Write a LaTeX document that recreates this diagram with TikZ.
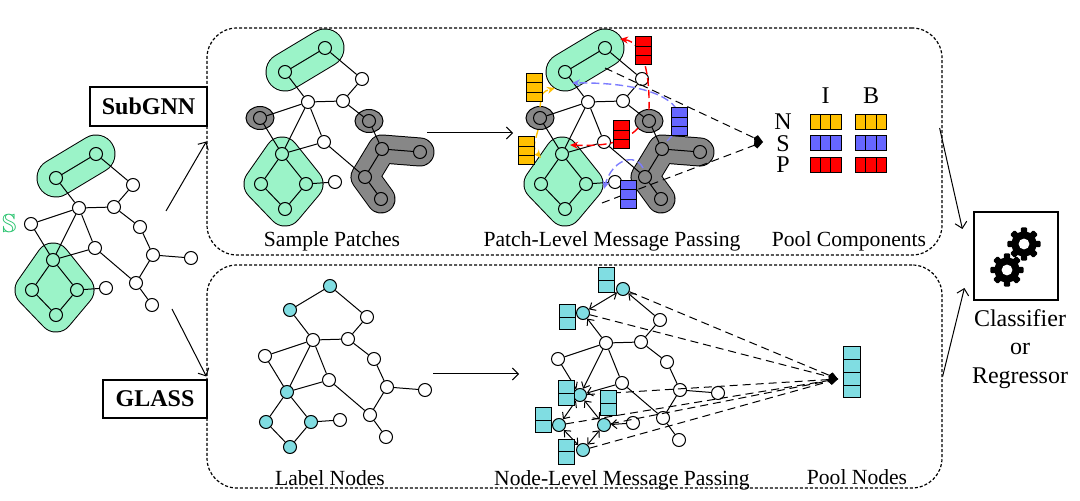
\documentclass[tikz,border=0pt]{standalone}
\usepackage{amssymb}
\usepackage{fontspec}
\setmainfont{Liberation Serif}
\usetikzlibrary{positioning, calc, arrows.meta, backgrounds}

\definecolor{patchgreen}{RGB}{155,243,200}
\definecolor{patchgray}{RGB}{135,135,135}
\definecolor{labelcyan}{RGB}{128,221,226}
\definecolor{msgyellow}{RGB}{255,192,0}
\definecolor{msgblue}{RGB}{102,102,255}
\definecolor{msgred}{RGB}{255,0,0}
\definecolor{setgreen}{RGB}{40,195,110}

\tikzset{
  vert/.style={circle, draw, fill=white, minimum size=6.5pt, inner sep=0pt, line width=0.5pt},
  edge/.style={line width=0.5pt},
  flow/.style={line width=0.5pt, -{Straight Barb[length=3pt, width=6pt]}},
  panel/.style={draw, rounded corners=15pt, dash pattern=on 1.5pt off 1pt, line width=0.6pt},
  method/.style={draw, font=\fontsize{12}{14}\selectfont\bfseries, inner sep=0pt, line width=0.6pt},
  caption/.style={font=\fontsize{10.8}{13}\selectfont, anchor=base, inner sep=0pt},
  bigtext/.style={font=\fontsize{12}{14.25}\selectfont, inner sep=0pt},
  cell/.style={draw, fill=#1, inner sep=0pt, line width=0.5pt},
  vcells/.style={path picture={\foreach \t in {#1}
      \draw[line width=0.5pt] ($(path picture bounding box.north west)!\t!(path picture bounding box.south west)$)
        -- ($(path picture bounding box.north east)!\t!(path picture bounding box.south east)$);}},
  hcells/.style={path picture={\foreach \t in {#1}
      \draw[line width=0.5pt] ($(path picture bounding box.north west)!\t!(path picture bounding box.north east)$)
        -- ($(path picture bounding box.south west)!\t!(path picture bounding box.south east)$);}},
  msgstack/.style={cell=#1, minimum width=8pt, minimum height=14pt, vcells={0.3333,0.6667}},
  poolbar/.style={cell=#1, minimum width=15.5pt, minimum height=7.5pt, hcells={0.3333,0.6667}},
  nodestack/.style={cell=labelcyan, minimum width=8pt, minimum height=12.5pt, vcells={0.5}},
  msg/.style={line width=0.7pt, dash pattern=on 4pt off 2pt, -{Stealth[length=4pt, width=3.5pt]}},
  pooled/.style={line width=0.5pt, dash pattern=on 4pt off 2.5pt, -{Kite[length=5pt, width=4pt]}},
  green nodes/.style={v a1/.style={fill=patchgreen}, v a2/.style={fill=patchgreen},
    v p1/.style={fill=patchgreen}, v p2/.style={fill=patchgreen},
    v p3/.style={fill=patchgreen}, v p4/.style={fill=patchgreen}},
  gray nodes/.style={v s/.style={fill=patchgray}, v e/.style={fill=patchgray},
    v g/.style={fill=patchgray}, v h/.style={fill=patchgray},
    v j/.style={fill=patchgray}, v k/.style={fill=patchgray}},
  cyan nodes/.style={v a1/.style={fill=labelcyan}, v a2/.style={fill=labelcyan},
    v p1/.style={fill=labelcyan}, v p2/.style={fill=labelcyan},
    v p3/.style={fill=labelcyan}, v p4/.style={fill=labelcyan}},
  node messages/.style={>={Straight Barb[length=2.5pt, width=4.5pt]},
    e a1-a2/.style={<->}, e a2-b/.style={<-}, e a1-c/.style={<-},
    e c-p1/.style={->}, e f-p1/.style={->}, e s-p1/.style={->},
    e p1-p2/.style={<->}, e p1-p3/.style={<->}, e p2-p4/.style={<->},
    e p3-p4/.style={<->}, e p3-i/.style={<-}},
}

% the graph, drawn once per panel
\newcommand{\basegraph}{%
  \foreach \n/\x/\y in {a1/56/178, a2/96/154, b/133/185, c/79/208, d/114/207,
      s/31/224, e/140/227, f/95/248, g/153/255, h/191/258, i/106/288,
      j/136/283, k/152/305, p1/53/260, p2/32/290, p3/77/290, p4/56/315}
    \node[vert, v \n/.try] (\n) at (\x,\y) {};
  \foreach \u/\w in {a1/a2, a2/b, a1/c, b/d, c/d, c/s, c/p1, c/f, d/e, e/g,
      g/h, g/j, j/k, f/j, f/p1, s/p1, p1/p2, p1/p3, p2/p4, p3/p4, p3/i}
    \draw[edge, e \u-\w/.try] (\u) -- (\w);
}
% outlined patch: [fill]{colour}{width}{path}
\newcommand{\blob}[4][]{%
  \draw[#1, draw=black, line width=#3+1pt, line join=round, line cap=round] #4;
  \draw[#1, draw=#2, line width=#3, line join=round, line cap=round] #4;}
\newcommand{\greenpatches}{%
  \blob{patchgreen}{18.5pt}{(a1.center) -- (a2.center)}
  \blob[fill=patchgreen]{patchgreen}{16.5pt}{(p1.center) -- (p3.center) -- (p4.center) -- (p2.center) -- cycle}}
\newcommand{\graypatches}{%
  \filldraw[fill=patchgray, line width=0.5pt] (s.center) ellipse (7pt and 5.75pt);
  \filldraw[fill=patchgray, line width=0.5pt] (e.center) ellipse (7pt and 5.75pt);
  \blob{patchgray}{13.5pt}{(h.center) -- (g.center) -- (j.center) -- (k.center)}}

\begin{document}
\begin{tikzpicture}[x=0.5pt, y=-0.5pt]
\useasboundingbox (0,0) rectangle (1080,501);

% input graph
\begin{scope}[name prefix=in-, green nodes]
  \basegraph
  \begin{pgfonlayer}{background}
    \greenpatches
  \end{pgfonlayer}
\end{scope}
\node[left=3.5pt of in-s, inner sep=0pt, text=setgreen, font=\fontsize{13}{15}\selectfont] (setname) {$\mathbb{S}$};

% panels
\node[panel, minimum width=367.5pt, minimum height=113.5pt] (subbox) at (574.5,141.5) {};
\node[panel, minimum width=367.5pt, minimum height=111.5pt] (glassbox) at (574.5,376.5) {};
\node[method, minimum width=58.5pt, minimum height=19.5pt] (subgnn) at (148.5,106.5) {SubGNN};
\node[method, minimum width=52pt, minimum height=19pt] (glass) at (155,399) {GLASS};
\coordinate (toup) at (166,211);
\coordinate (todown) at (172,309);
\draw[flow] (toup) -- (subbox.west);
\draw[flow] (todown) -- (glassbox.west);

% SubGNN: sample patches
\begin{scope}[shift={(229,-106)}, name prefix=sp-, green nodes, gray nodes]
  \basegraph
  \begin{pgfonlayer}{background}
    \greenpatches
    \graypatches
  \end{pgfonlayer}
\end{scope}
\coordinate (spout) at (427,133);
\coordinate (plin) at (513,133);
\draw[flow] (spout) -- (plin);

% SubGNN: patch-level message passing
\begin{scope}[shift={(509,-106)}, name prefix=pl-, green nodes, gray nodes]
  \basegraph
  \begin{pgfonlayer}{background}
    \greenpatches
    \graypatches
  \end{pgfonlayer}
\end{scope}
\coordinate (pctip) at (763,142);
\draw[pooled] ([yshift=-10pt]pl-a2.center) -- (pctip);
\draw[pooled] ([xshift=8pt,yshift=-9.5pt]pl-p3.center) -- (pctip);
\draw[msg, msgred] ([yshift=5.5pt]pl-e.center) .. controls (650,70) and (642,42) .. ([xshift=7.5pt,yshift=4.5pt]pl-a2.center);
\draw[msg, msgred] ([xshift=-5.5pt,yshift=-3.5pt]pl-e.center) .. controls (622,146) and (595,146) .. ([xshift=4pt,yshift=4.5pt]pl-p1.center);
\draw[msg, msgblue!85] ([xshift=2.5pt,yshift=4pt]pl-g.center) .. controls (700,110) and (665,82) .. ([xshift=3.5pt,yshift=-5.5pt]pl-a1.center);
\draw[msg, msgblue!85] ([xshift=-1pt,yshift=4.5pt]pl-j.center) .. controls (635,152) and (612,160) .. ([xshift=-5.5pt,yshift=-3.5pt]pl-i.center);
\draw[msg, msgyellow] ([yshift=5.5pt]pl-s.center) .. controls (542,92) .. ([xshift=-5pt,yshift=-8pt]pl-a1.center);
\draw[msg, msgyellow] ([xshift=-1pt,yshift=-6pt]pl-s.center) .. controls (533,148) .. ([xshift=-10.5pt,yshift=-2pt]pl-p1.center);
\node[msgstack=msgred] (redtop) at (643,51) {};
\node[msgstack=msgred] (redmid) at (621.5,135) {};
\node[msgstack=msgblue] (bluetop) at (679.5,122) {};
\node[msgstack=msgblue] (bluelow) at (628.5,194.5) {};
\node[msgstack=msgyellow] (yellowtop) at (534,87.5) {};
\node[msgstack=msgyellow] (yellowlow) at (526,151) {};

% SubGNN: pool components
\node[bigtext] (coli) at (825.5,96) {I};
\node[bigtext] (colb) at (871,96) {B};
\foreach \r/\col/\y in {N/msgyellow/122, S/msgblue/143.5, P/msgred/165} {
  \node[bigtext] (row\r) at (783,\y) {\r};
  \node[poolbar=\col] (\r-i) at (825.5,\y) {};
  \node[poolbar=\col] (\r-b) at (871,\y) {};
}

\node[caption] (capsample) at (332,247) {Sample Patches};
\node[caption] (cappatch) at (612,247) {Patch-Level Message Passing};
\node[caption] (cappool) at (849,247) {Pool Components};

% GLASS: label nodes
\begin{scope}[shift={(234,132)}, name prefix=ln-, cyan nodes]
  \basegraph
\end{scope}
\coordinate (lnout) at (433,374);
\coordinate (nlin) at (519,374);
\draw[flow] (lnout) -- (nlin);

% GLASS: node-level message passing
\node[cell=labelcyan, minimum width=8.5pt, minimum height=25.5pt, vcells={0.25,0.5,0.75}] (poolnodes) at (851.5,372.5) {};
\coordinate (nltip) at (838,379);
\begin{scope}[shift={(527,135)}, name prefix=nl-, cyan nodes, node messages]
  \basegraph
\end{scope}
\foreach \n in {a2,a1,p1,p3,p2,p4}
  \draw[pooled] (nl-\n) -- (nltip);
\foreach \m/\x/\y in {1/606/280.5, 2/567/317.5, 3/566/393.5, 4/608.5/403.5, 5/543.5/420.5, 6/566/452}
  \node[nodestack] (nls\m) at (\x,\y) {};

\node[caption] (caplabel) at (330,485) {Label Nodes};
\node[caption] (capnode) at (622,485) {Node-Level Message Passing};
\node[caption] (cappoolnodes) at (857,484) {Pool Nodes};

% classifier
\node[draw, line width=0.6pt, minimum width=42pt, minimum height=44pt] (clf) at (1016,256) {};
\foreach \gx/\gy in {1024/244, 1007/270} {
  \begin{scope}[shift={(\gx,\gy)}]
    \fill (0,0) circle (6.3pt);
    \foreach \a in {0,45,...,315}
      \fill[rotate=\a, rounded corners=0.6pt] (-1.6pt,5pt) rectangle (1.6pt,8.3pt);
    \fill[white] (0,0) circle (2.7pt);
  \end{scope}
}
\node[bigtext, anchor=north, align=center] (clftext) at (1020,309) {Classifier\\or\\Regressor};
\draw[flow] ([xshift=-1.5pt,yshift=6.75pt]subbox.east) -- ([xshift=-5.5pt,yshift=13.5pt]clf.west);
\draw[flow] (glassbox.east) -- ([xshift=-4.5pt,yshift=-16pt]clf.west);
\end{tikzpicture}
\end{document}
